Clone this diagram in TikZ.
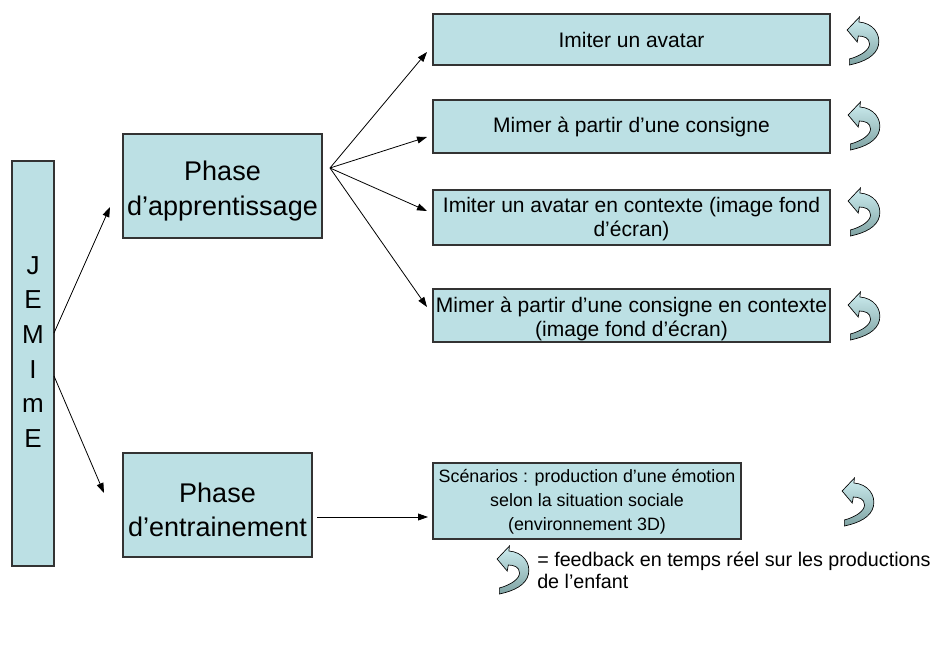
\documentclass[tikz,border=0pt]{standalone}
\usepackage{fontspec}
\setmainfont{Liberation Sans}
\usetikzlibrary{arrows.meta,calc}
\definecolor{boxfill}{HTML}{BCE0E4}
\definecolor{boxline}{HTML}{333333}
\definecolor{fbl}{HTML}{CDEDF0}
\definecolor{fbd}{HTML}{7FA3A3}
\tikzset{
 box/.style={draw=boxline,fill=boxfill,line width=1pt,inner sep=0pt,align=center,anchor=center},
 small/.style={font=\fontsize{15.75}{18}\selectfont},
 big/.style={font=\fontsize{20.25}{26}\selectfont},
 lbl/.style={inner sep=0pt,align=center},
 arr/.style={-{Triangle[length=7.5pt,width=5.2pt]},line width=0.6pt},
 fb/.pic={\draw[line width=0.5pt,top color=fbl,bottom color=fbd,xscale=1.12]
   (1,13) -- (12,0) -- (11.5,5) .. controls (24,6) and (31,17) .. (29,28)
   .. controls (27,39) and (16,45) .. (3,48) -- (3,42)
   .. controls (13,39) and (21,33) .. (21,27)
   .. controls (21,21) and (16,19) .. (11,19) -- (10,25) -- cycle;}
}
\begin{document}
\begin{tikzpicture}[x=0.75pt,y=-0.75pt]
\useasboundingbox (0,0) rectangle (938,649);
% boxes
\node[box,minimum width=31.5pt,minimum height=303.75pt] (jem) at (33,363.5) {};
\node[lbl,font=\fontsize{19.5}{26}\selectfont] (jemt) at (33,352) {J\\E\\M\\I\\m\\E};
\node[box,minimum width=149.25pt,minimum height=78pt] (pa) at (222.5,186) {};
\node[lbl,big] (pat) at (222.5,191) {Phase\\d’apprentissage};
\node[box,minimum width=141.75pt,minimum height=78pt] (pe) at (217.5,505) {};
\node[lbl,big] (pet) at (217.5,510) {Phase\\d’entrainement};
\node[box,small,minimum width=297.75pt,minimum height=38.25pt] (b1) at (631.5,39.5) {Imiter un avatar};
\node[box,small,minimum width=297.75pt,minimum height=39.75pt] (b2) at (631.5,126.5) {\raisebox{-1.5pt}{Mimer à partir d’une consigne}};
\node[box,small,minimum width=297.75pt,minimum height=41.25pt] (b3) at (631.5,217.5) {};
\node[lbl,small] (b3t) at (631.5,219) {Imiter un avatar en contexte (image fond\\d’écran)};
\node[box,small,minimum width=297.75pt,minimum height=39.75pt] (b4) at (631.5,315.5) {};
\node[lbl,small] (b4t) at (631.5,319) {Mimer à partir d’une consigne en contexte\\(image fond d’écran)};
\node[box,minimum width=231pt,minimum height=57pt] (b5) at (587,501) {};
\node[lbl,font=\fontsize{13.4}{18}\selectfont] (b5t) at (587,502) {Scénarios : production d’une émotion\\selon la situation sociale\\(environnement 3D)};
% connectors
\coordinate (fan) at (330,168);
\coordinate (t1) at (427,52);
\coordinate (t2) at (427,137);
\coordinate (t3) at (427,211);
\coordinate (t4) at (427,307);
\draw[arr] (fan) -- (t1);
\draw[arr] (fan) -- (t2);
\draw[arr] (fan) -- (t3);
\draw[arr] (fan) -- (t4);
\coordinate (j1) at (54,333);
\coordinate (j2) at (54,376);
\coordinate (ja) at (110,207);
\coordinate (jb) at (104,493);
\draw[arr] (j1) -- (ja);
\draw[arr] (j2) -- (jb);
\coordinate (p1) at (317,517);
\coordinate (p2) at (428,517);
\draw[arr] (p1) -- (p2);
% feedback icons
\pic at (846,17) {fb};
\pic at (847,102) {fb};
\pic at (847,188) {fb};
\pic at (847,292) {fb};
\pic at (841,478) {fb};
\pic at (496,546) {fb};
\node[anchor=north west,align=left,inner sep=0pt,font=\fontsize{14.8}{16.5}\selectfont] (leg) at (537,552) {= feedback en temps réel sur les productions\\de l’enfant};
\end{tikzpicture}
\end{document}
